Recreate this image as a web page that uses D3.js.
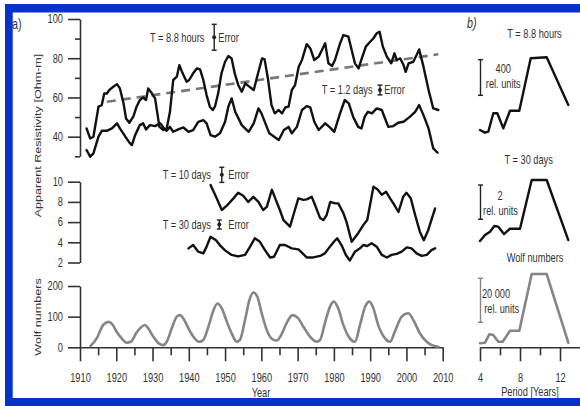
<!DOCTYPE html>
<html><head><meta charset="utf-8">
<script src="https://cdn.jsdelivr.net/npm/d3@7"></script>
<style>
html,body{margin:0;padding:0;background:#fff;}
svg{display:block;font-family:"Liberation Sans",Arial,sans-serif;}
</style></head>
<body><svg id="c" width="580" height="406"></svg>
<script>
// ---------- DATA ----------
const years8h = [1911.8,1912.8,1913.7,1915.1,1916,1916.7,1917.4,1918.1,1919.2,1920.2,1921,1922,1922.7,1923.6,1924.7,1925.6,1926.5,1927.4,1928.2,1928.8,1929.8,1930.7,1931.9,1933,1933.9,1934.8,1935.7,1936.7,1937.4,1938.3,1939.4,1940.1,1941.2,1942.2,1943.1,1944,1944.9,1945.8,1946.6,1947.2,1948.1,1949,1950,1950.9,1951.8,1952.7,1953.6,1954.6,1955.6,1956.5,1957.9,1959.2,1960.2,1960.9,1961.8,1962.8,1963.7,1964.8,1965.7,1966.6,1967.5,1968.4,1969.3,1970.3,1971.2,1972.5,1973.5,1974.6,1975.8,1977.6,1978.5,1979.5,1980.3,1981.7,1982.6,1984,1984.9,1985.8,1986.8,1987.7,1988.8,1990,1990.9,1991.8,1992.6,1993.5,1994.6,1995.8,1996.7,1997.3,1998.3,1999.2,1999.8,2000.6,2001.9,2002.8,2003.5,2004.7,2006.1,2007.4,2008.8];
const res8h = [44.2,39.1,40,55.3,56.1,62.1,62,63.8,65.5,66.8,64.6,57,49.3,47.1,50.2,55.3,58.7,60,58.7,64.6,62.1,59.5,45,43.4,44.2,52.7,68.9,70.6,76.5,72.3,68,68.9,72.3,74.8,74.3,68.9,61.2,55.3,53.6,55.3,62.1,72.3,78.2,81.1,79.9,72,66.5,62.9,67.2,65.8,63.8,73.1,79.9,79.4,69.7,56.1,51.9,53.6,51.9,54.9,55.3,63.8,66.3,75.7,79.1,87.2,85,79.1,80.8,87.6,77.4,76,79.1,87.6,91.8,91,84.2,77.4,74.8,79.9,85.9,88.4,90.2,92.7,93.5,85.9,80.8,77.4,82.5,79.1,79.9,76.5,73.1,77.4,78.2,81.6,84.5,75.7,63.8,54.4,53.6];

const years12d = [1911.8,1912.8,1913.7,1915.1,1916,1917.4,1918.8,1920.2,1921,1922.5,1923.8,1924.3,1925.2,1926.5,1927.4,1928.2,1929.3,1930.7,1932.1,1933.2,1933.9,1934.8,1935.7,1937.1,1938.5,1939.9,1941.2,1942.6,1944,1944.9,1946,1947.2,1948.6,1950,1950.9,1951.8,1952.8,1954.6,1956.5,1957.9,1959.2,1960,1962.2,1964.8,1966.2,1967.5,1968.4,1969.8,1971.2,1972.5,1973.5,1974.6,1975.8,1977.6,1978.9,1980.1,1981.7,1983,1984.1,1985.3,1986.7,1987.6,1988.5,1989.4,1990.5,1991.8,1993.2,1995,1996.4,1997.7,1999.2,2001,2002.4,2003.5,2004.7,2006.1,2007.4,2008.6];
const res12d = [33.2,29.8,31.5,40,43,43,44.2,46.8,44.2,40,36.6,35.7,40.8,45.9,46.8,43.7,45.9,45.4,46.8,44.2,43,45,42.5,43.7,44.7,42.5,43.4,47.6,48.5,46.8,40.8,40,41.7,47.6,55.3,59.5,52.7,45.9,42.5,46.8,54.4,52,41.7,38.3,43.4,45,41.7,45,53.6,55.6,54.9,47.6,43.4,46.8,44.7,42.5,51.9,58.7,57,50.2,45,44.2,50.2,52.7,51.9,54.4,53.6,45,45.4,47.1,47.6,50.2,52.7,56.1,51,44.2,34,31.8];

const trendYears = [1917.4, 2008.8];
const trendRes = [57.8, 82];

const years10d = [1946,1947.5,1949.1,1950.4,1952.3,1953.6,1955,1956.4,1957.8,1959.2,1960.5,1961.5,1962.9,1964,1965.1,1966.1,1967.9,1969,1970.2,1971.6,1972.5,1973.9,1974.8,1976.2,1977.1,1978,1979,1980.3,1981.2,1982.6,1983.5,1984.9,1986.7,1988.1,1989.2,1990.9,1992,1993.2,1994.4,1995.5,1996.4,1997.8,1999.1,2000,2001.2,2002.4,2003.7,2004.8,2006,2007.9];
const res10d = [9.67,8.5,7.2,7.6,8.35,8.9,8.6,8.0,8.5,8.0,7.2,7.5,9.2,8.2,7.2,6.2,5.55,6.9,8.35,8.2,8.25,8.5,7.7,6.4,6.2,6.7,8.0,7.85,7.85,6.9,6.0,4.05,4.9,5.7,6.2,9.5,9.25,8.7,9.0,8.35,7.85,7.0,8.5,8.9,8.35,6.7,5.05,4.2,5.2,7.35];

const years30d = [1939.9,1941.2,1942.6,1944,1944.9,1946,1947.5,1948.6,1950,1951.8,1953.6,1955.5,1956.9,1958.2,1959.6,1961,1962.4,1963.5,1965.1,1966.5,1968.4,1970.2,1971.1,1972.5,1974.3,1976.2,1977.5,1978.9,1980,1980.9,1982.1,1983.3,1984.4,1985.8,1987.2,1988.1,1989.2,1990.4,1991.8,1993.2,1994.6,1995.9,1997.3,1998.7,2000.1,2001.4,2002.8,2004.2,2005.6,2006.9,2007.9];
const res30d = [3.4,3.73,3.07,2.9,3.57,4.55,4.2,3.7,3.2,2.75,2.6,2.75,3.57,4.4,4.05,3.23,2.5,2.57,3.73,3.73,3.4,3.3,3.0,2.5,2.5,2.65,2.9,3.57,4.05,4.4,3.73,2.75,2.2,3.07,3.4,3.73,3.63,3.9,3.57,2.75,2.5,2.75,2.85,3.07,3.5,3.4,2.9,2.65,2.75,3.23,3.4];

const wolfYears = [1912.9,1914.6,1916.4,1917.8,1918.7,1920.1,1921.5,1922.9,1924,1925.6,1927,1927.9,1928.8,1930.2,1931.9,1933,1933.9,1935.3,1936.7,1937.6,1938.5,1939.9,1941.2,1942.9,1944,1945.4,1946.8,1947.9,1949.1,1950.5,1951.8,1953.2,1954.1,1955.5,1956.7,1957.8,1958.9,1960.1,1961.5,1962.8,1964.2,1965.6,1967,1968.6,1970.2,1971.6,1973.4,1975.3,1976.2,1977.5,1978.9,1980,1981.2,1982.6,1984.4,1985.8,1987.2,1988.6,1989.8,1990.9,1992.2,1994.1,1995.5,1996.8,1998.7,2000.5,2001.9,2003.7,2005.6,2007,2008.8];
const wolfNumbers = [4,29,73,83,78,51,29,15,18,48,67,73,62,35,11,7,18,62,100,105,94,62,35,18,24,67,121,143,127,83,46,18,24,89,154,179,165,111,56,29,22,43,80,105,94,67,35,18,24,78,132,149,127,73,29,18,73,132,149,127,73,29,18,51,100,111,89,46,18,7,2];

// panel b spectra (relative units)
const periods8h = [4.0,4.5,4.83,5.33,5.73,6.33,7.0,7.93,9.07,10.67,12.83];
const spec8h = [112,82,93,299,299,131,328,328,915,926,392];
const periods30d = [4.0,4.5,5.0,5.43,5.83,6.4,7.0,8.0,9.17,10.67,12.83];
const spec30d = [0.52,0.87,1.07,1.40,1.36,0.93,1.24,1.24,4.08,4.08,0.58];
const periodsWolf = [4.0,4.5,4.93,5.33,5.83,6.27,7.0,7.93,9.17,10.67,12.83];
const specWolf = [1818,2090,5900,5600,2545,2545,7545,7545,33300,33300,2090];

// tick values
const resTicks = [40,60,80,100];
const resMinor = [30,50,70,90];
const res2Ticks = [2,4,6,8,10];
const wolfTicks = [0,100,200];
const yearTicks = [1910,1920,1930,1940,1950,1960,1970,1980,1990,2000,2010];
const yearMinor = [1915,1925,1935,1945,1955,1965,1975,1985,1995,2005];
const periodTicks = [4,8,12];
const periodMinor = [6,10];

// error half-widths & scale bar sizes
const errHalf = [6.6, 2.5, 0.75, 0.45];
const barSizes = [400, 2, 20000];

// ---------- DRAW ----------
const SX = 0.77;
const svg = d3.select("#c");
svg.append("rect").attr("width",580).attr("height",406).attr("fill","#fff");

const x = d3.scaleLinear([1910,2010],[80,442.7]);
const yTop = d3.scaleLinear([30,100],[156.3,19]);
const yMid = d3.scaleLinear([2,10],[262.5,181.7]);
const yBot = d3.scaleLinear([0,200],[347.3,286]);
const xP = d3.scaleLinear([4,14],[480,580]);
const yB1 = d3.scaleLinear([0,1000],[140,50.7]);
const yB2 = d3.scaleLinear([0,5],[250,164.25]);
const yB3 = d3.scaleLinear([0,40000],[347.3,259.3]);

const AX = "#333", TXT = "#333", LINE = "#111", GRAY = "#858585";

function label(x0,y0,str,o={}){
  const t = svg.append("text")
    .attr("transform",`translate(${x0},${y0}) scale(${SX},1)`)
    .attr("dy","0.35em")
    .attr("text-anchor",o.anchor||"start")
    .attr("font-size",o.size||12)
    .attr("fill",o.color||TXT)
    .text(str);
  if(o.italic) t.attr("font-style","italic");
  return t;
}
function vlabel(x0,y0,str,size){
  svg.append("text")
    .attr("transform",`translate(${x0},${y0}) scale(${SX},1) rotate(-90)`)
    .attr("dy","0.35em").attr("text-anchor","middle")
    .attr("font-size",size).attr("fill",TXT).text(str);
}
function styleAxis(g, left, size, pad){
  g.selectAll("path.domain").attr("stroke",AX).attr("stroke-width",1.6);
  g.selectAll(".tick line").attr("stroke",AX).attr("stroke-width",1.6);
  g.selectAll("text").attr("font-size",12).attr("fill",TXT)
    .attr("font-family","Liberation Sans, Arial, sans-serif");
  if(left){
    g.selectAll("text").attr("x",-(size+pad)/SX).attr("transform",`scale(${SX},1)`);
  } else {
    g.selectAll("text").attr("transform",`scale(${SX},1)`);
  }
}
function leftAxis(scale, ticks, minor){
  const g = svg.append("g").attr("transform","translate(80,0)")
    .call(d3.axisLeft(scale).tickValues(ticks).tickSize(12).tickSizeOuter(0).tickPadding(5));
  styleAxis(g,true,12,5);
  if(minor){
    const m = svg.append("g").attr("transform","translate(80,0)")
      .call(d3.axisLeft(scale).tickValues(minor).tickSize(5).tickFormat(""));
    m.select("path.domain").remove();
    styleAxis(m,true,5,0);
  }
}
leftAxis(yTop,resTicks,resMinor);
leftAxis(yMid,res2Ticks,null);
leftAxis(yBot,wolfTicks,null);

function bottomAxis(scale, ticks, minor){
  const g = svg.append("g").attr("transform",`translate(0,${yBot(0)})`)
    .call(d3.axisBottom(scale).tickValues(ticks).tickSize(14).tickSizeOuter(0).tickPadding(12.5).tickFormat(d3.format("d")));
  styleAxis(g,false);
  const m = svg.append("g").attr("transform",`translate(0,${yBot(0)})`)
    .call(d3.axisBottom(scale).tickValues(minor).tickSize(8).tickFormat(""));
  m.select("path.domain").remove();
  styleAxis(m,false);
}
bottomAxis(x, yearTicks, yearMinor);
bottomAxis(xP, periodTicks, periodMinor);

// axis titles
vlabel(38,135.5,"Apparent Resistivity [Ohm-m]",12.6);
vlabel(38,317,"Wolf numbers",12.6);
label(261,392.7,"Year",{anchor:"middle"});
label(530,391.7,"Period [Years]",{anchor:"middle"});

// lines
function path(xs, ys, xsc, ysc, color, w, curve, dash){
  const pts = xs.map((d,i)=>[d,ys[i]]);
  const l = d3.line().x(d=>xsc(d[0])).y(d=>ysc(d[1])).curve(curve||d3.curveLinear);
  const p = svg.append("path").attr("d",l(pts)).attr("fill","none")
    .attr("stroke",color).attr("stroke-width",w).attr("stroke-linejoin","round").attr("stroke-linecap","round");
  if(dash) p.attr("stroke-dasharray",dash).attr("stroke-linecap","butt");
  return p;
}
path(trendYears,trendRes,x,yTop,"#777",2.6,null,"9,6");
path(years8h,res8h,x,yTop,LINE,2.4);
path(years12d,res12d,x,yTop,LINE,2.4);
path(years10d,res10d,x,yMid,LINE,2.4);
path(years30d,res30d,x,yMid,LINE,2.4);
path(wolfYears,wolfNumbers,x,yBot,GRAY,2.6,d3.curveMonotoneX);

path(periods8h,spec8h,xP,yB1,LINE,2.4);
path(periods30d,spec30d,xP,yB2,LINE,2.4);
path(periodsWolf,specWolf,xP,yB3,GRAY,2.6);

// error bars
function errBar(cx, cy, half, color){
  const g = svg.append("g").attr("stroke",color||"#222").attr("stroke-width",1.4);
  g.append("line").attr("x1",cx).attr("x2",cx).attr("y1",cy-half).attr("y2",cy+half);
  g.append("line").attr("x1",cx-2.5).attr("x2",cx+2.5).attr("y1",cy-half).attr("y2",cy-half);
  g.append("line").attr("x1",cx-2.5).attr("x2",cx+2.5).attr("y1",cy+half).attr("y2",cy+half);
  return g;
}
function errMark(year, v, scale, half){
  const cx = x(year), cy = scale(v), h = scale(v-half)-scale(v);
  errBar(cx,cy,h);
  svg.append("circle").attr("cx",cx).attr("cy",cy).attr("r",2).attr("fill","#222");
}
errMark(1947.0,90.7,yTop,errHalf[0]);
label(150,37.3,"T = 8.8 hours"); label(218.3,37.3,"Error");
errMark(1992.7,63.8,yTop,errHalf[1]);
label(321.7,89.3,"T = 1.2 days"); label(384.3,89.3,"Error");
errMark(1949.1,10.68,yMid,errHalf[2]);
label(162.7,174.3,"T = 10 days"); label(228.3,174.3,"Error");
errMark(1948.4,5.76,yMid,errHalf[3]);
label(162.7,224.3,"T = 30 days"); label(228.3,224.3,"Error");

// panel b scale bars
function scaleBar(scale, v0, size, color){
  const y0 = scale(v0), y1 = scale(v0+size);
  errBar(480.5,(y0+y1)/2,(y0-y1)/2,color);
}
scaleBar(yB1,500,barSizes[0]);
label(534.5,34,"T = 8.8 hours",{anchor:"middle"});
label(503.3,68.3,"400",{anchor:"middle"});
label(503.3,83.3,"rel. units",{anchor:"middle"});

scaleBar(yB2,1.79,barSizes[1]);
label(528.7,160,"T = 30 days",{anchor:"middle"});
label(500,196,"2",{anchor:"middle"});
label(500.5,211,"rel. units",{anchor:"middle"});

scaleBar(yB3,11364,barSizes[2],GRAY);
label(535,257.7,"Wolf numbers",{anchor:"middle"});
label(496,293.3,"20 000",{anchor:"middle"});
label(501.7,308.3,"rel. units",{anchor:"middle"});

// panel letters
label(12,24,"a)",{size:14});
label(467,23.3,"b)",{size:14,italic:true});

// blue frame
const BLUE = "#0433c9";
svg.append("rect").attr("x",5).attr("y",4).attr("width",575).attr("height",8.5).attr("fill",BLUE);
svg.append("rect").attr("x",5).attr("y",4).attr("width",7.7).attr("height",402).attr("fill",BLUE);
svg.append("rect").attr("x",5).attr("y",398).attr("width",575).attr("height",8).attr("fill",BLUE);
</script></body></html>
